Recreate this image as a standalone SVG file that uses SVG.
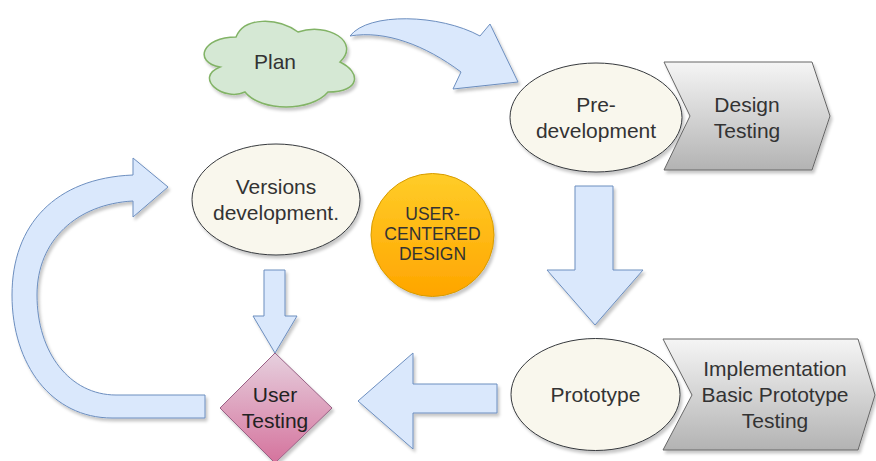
<svg xmlns="http://www.w3.org/2000/svg" width="876" height="461" viewBox="0 0 876 461">
  <defs>
    <filter id="shadow" x="-20%" y="-20%" width="140%" height="140%">
      <feDropShadow dx="2" dy="3" stdDeviation="1.5" flood-color="#000" flood-opacity="0.22"/>
    </filter>
    <linearGradient id="grayGrad" x1="0" y1="0" x2="0" y2="1">
      <stop offset="0" stop-color="#f5f5f5"/>
      <stop offset="1" stop-color="#b3b3b3"/>
    </linearGradient>
    <linearGradient id="pinkGrad" x1="0" y1="0" x2="0" y2="1">
      <stop offset="0" stop-color="#e6d0de"/>
      <stop offset="1" stop-color="#d5739d"/>
    </linearGradient>
    <linearGradient id="orangeGrad" x1="0" y1="0" x2="0" y2="1">
      <stop offset="0" stop-color="#ffcd28"/>
      <stop offset="1" stop-color="#ffa500"/>
    </linearGradient>
  </defs>
  <style>
    .arrow { fill: #dae8fc; stroke: #6c8ebf; stroke-width: 1; filter: url(#shadow); }
    .oval { fill: #f9f7ed; stroke: #36393d; stroke-width: 1; filter: url(#shadow); }
    .step { fill: url(#grayGrad); stroke: #666666; stroke-width: 1; filter: url(#shadow); }
    .label { font-family: "Liberation Sans", Arial, sans-serif; font-size: 21px; fill: #333333; text-anchor: middle; }
    .small { font-size: 17.5px; }
  </style>

  <rect width="876" height="461" fill="#ffffff"/>

  <g id="connectors">
    <!-- Plan to Pre-development -->
    <path class="arrow" d="M350,36 C368,12 440,14 480,36 L490,24 L518,82 L453,89 L461,72 C425,45 385,30 350,36 Z"/>
    <!-- Pre-development down to Prototype -->
    <path class="arrow" d="M575,186 L613,186 L613,270 L643,270 L595,325 L547,270 L575,270 Z"/>
    <!-- Prototype left to User Testing -->
    <path class="arrow" d="M497,384 L497,413 L413,413 L413,449 L358,401 L413,353 L413,384 Z"/>
    <!-- Versions down to User Testing -->
    <path class="arrow" d="M264,270 L285,270 L285,316 L297,316 L275,353 L253,316 L264,316 Z"/>
    <!-- User Testing loop back to Versions -->
    <path class="arrow" d="M205,418 L112,418 C52,418 12,365 12,295 C12,225 55,178 133,175 L133,158 L168,187 L133,217 L133,201 C77,204 37,240 37,295 C37,353 70,395 116,395 L205,395 Z"/>
  </g>

  <g id="plan">
    <path d="M236,37 C202,37 193,62 220,67 C193,78 224,102 245,92 C261,112 311,112 328,92 C361,92 361,72 340,62 C361,42 328,22 298,32 C277,17 244,17 236,37 Z" fill="#d5e8d4" stroke="#82b366" stroke-width="1.5" filter="url(#shadow)"/>
    <text class="label" x="275" y="69">Plan</text>
  </g>

  <g id="pre-development">
    <ellipse class="oval" cx="596" cy="117.5" rx="86" ry="54.5"/>
    <text class="label" x="596" y="112">Pre-</text>
    <text class="label" x="596" y="138">development</text>
  </g>

  <g id="design-testing">
    <path class="step" d="M664,62 L812,62 L830,116 L812,170 L664,170 L690,116 Z"/>
    <text class="label" x="747" y="112">Design</text>
    <text class="label" x="747" y="138">Testing</text>
  </g>

  <g id="versions-development">
    <ellipse class="oval" cx="276" cy="199.5" rx="84" ry="55.5"/>
    <text class="label" x="276" y="194">Versions</text>
    <text class="label" x="276" y="220">development.</text>
  </g>

  <g id="user-centered-design">
    <circle cx="432.5" cy="235" r="61.5" fill="url(#orangeGrad)" stroke="#d79b00" stroke-width="1" filter="url(#shadow)"/>
    <text class="label small" x="432.5" y="220">USER-</text>
    <text class="label small" x="432.5" y="240">CENTERED</text>
    <text class="label small" x="432.5" y="260">DESIGN</text>
  </g>

  <g id="prototype">
    <ellipse class="oval" cx="595.5" cy="394.5" rx="84.5" ry="56"/>
    <text class="label" x="595.5" y="402">Prototype</text>
  </g>

  <g id="implementation">
    <path class="step" d="M663,339 L858,339 L875,395 L858,450 L663,450 L692,395 Z"/>
    <text class="label" x="775" y="376">Implementation</text>
    <text class="label" x="775" y="402">Basic Prototype</text>
    <text class="label" x="775" y="428">Testing</text>
  </g>

  <g id="user-testing">
    <path d="M275,353 L332,408 L275,463 L220,408 Z" fill="url(#pinkGrad)" stroke="#996185" stroke-width="1" filter="url(#shadow)"/>
    <text class="label" x="275" y="402" style="fill:#222222">User</text>
    <text class="label" x="275" y="428" style="fill:#222222">Testing</text>
  </g>
</svg>
